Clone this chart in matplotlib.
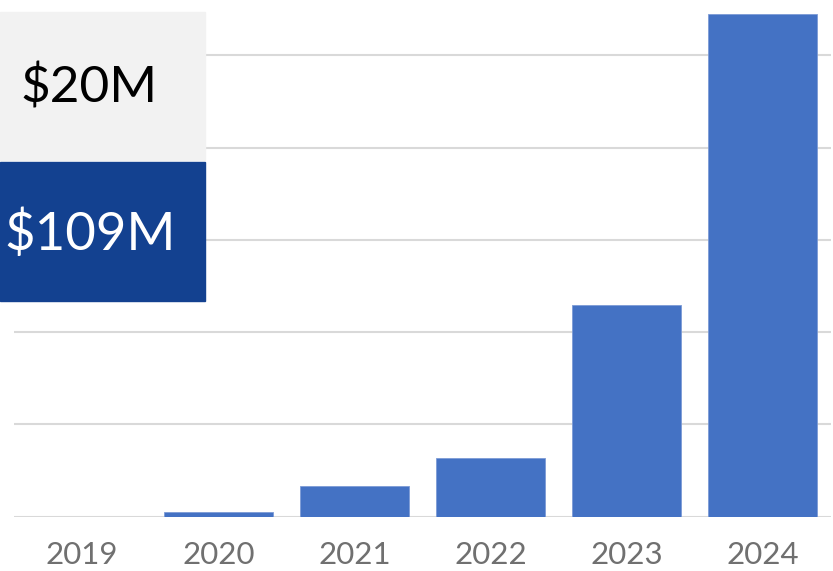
import matplotlib
matplotlib.use("Agg")
import matplotlib.pyplot as plt
from matplotlib.patches import Rectangle

years = ["2019", "2020", "2021", "2022", "2023", "2024"]
revenue = [0.0, 1.0, 6.7, 12.6, 45.8, 109.0]   # $M
yticks = [0, 20, 40, 60, 80, 100]
box_top_label = "$20M"
box_bottom_label = "$109M"

W, H = 833, 571
fig = plt.figure(figsize=(W / 100, H / 100), dpi=100)
ax = fig.add_axes([14 / W, (H - 516.5) / H, (831 - 14) / W, 516.5 / H])

x = range(len(years))
ax.bar(x, revenue, width=0.8, color="#4472C4", edgecolor="#7C9BD6", linewidth=0.6, zorder=3)
ax.set_xlim(-0.5, len(years) - 0.5)
ax.set_ylim(0, 112)
ax.set_yticks(yticks)
ax.yaxis.grid(True, color="#D9D9D9", lw=1.5, zorder=0)
ax.tick_params(axis="y", left=False, labelleft=False)
ax.tick_params(axis="x", bottom=False, pad=14)
ax.set_xticks(list(x))
ax.set_xticklabels(years, fontsize=22.5, color="#707070", family=["Lato", "DejaVu Sans"])
for s in ax.spines.values():
    s.set_visible(False)

# overlay boxes (figure pixel coords, origin top-left)
def fbox(x0, y0, x1, y1, color):
    fig.patches.append(Rectangle((x0 / W, 1 - y1 / H), (x1 - x0) / W, (y1 - y0) / H,
                                 transform=fig.transFigure, color=color, zorder=10))

fbox(0, 12, 205, 160, "#F2F2F2")
fbox(0, 162, 205, 301, "#134190")
fig.text(89 / W, 1 - 88 / H, box_top_label, ha="center", va="center", fontsize=37,
         color="black", family=["Lato", "DejaVu Sans"], zorder=11)
fig.text(90 / W, 1 - 234 / H, box_bottom_label, ha="center", va="center", fontsize=38,
         color="white", family=["Lato", "DejaVu Sans"], zorder=11)

fig.savefig("out.png", dpi=100)
